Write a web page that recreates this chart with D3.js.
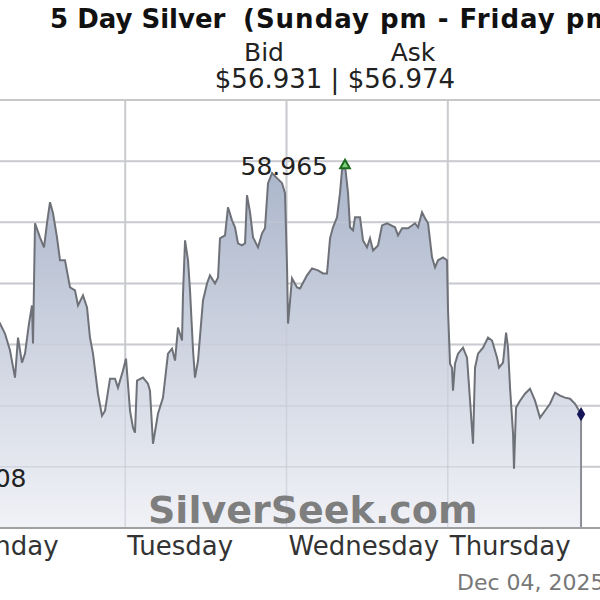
<!DOCTYPE html>
<html>
<head>
<meta charset="utf-8">
<script src="https://cdn.jsdelivr.net/npm/d3@7"></script>
<style>
  body { margin: 0; background: #fff; }
  svg { display: block; font-family: "DejaVu Sans", Verdana, sans-serif; }
</style>
</head>
<body>
<div id="chart-area"></div>
<script>
// hours since Monday 00:00
const hours = [-5.8, -4.5, -3.0, -1.5, 0.0, 2.0, 3.5,
  5.36, 6.10, 6.85, 7.59, 8.04, 8.63, 9.08, 9.67, 10.12, 10.27, 10.57, 11.31, 11.91, 12.35, 12.80,
  13.25, 13.84, 14.29, 15.03, 15.78, 16.52, 16.97, 17.71, 18.31, 18.75, 19.20, 19.94, 20.54, 20.99,
  21.73, 22.47, 22.92, 23.66, 24.11, 24.71, 25.15, 25.45, 25.75, 26.64, 27.38, 27.68, 28.13, 28.87,
  29.62, 30.36, 30.96, 31.41, 31.85, 32.45, 32.60, 32.90, 33.34, 33.64, 34.09, 34.38, 34.83, 35.57,
  36.17, 36.61, 37.36, 37.81, 38.10, 38.85, 39.29, 39.89, 40.34, 40.78, 41.38, 41.83, 42.12, 42.57,
  43.02, 43.76, 44.36, 44.80, 45.25, 45.85, 46.59, 47.34, 47.78, 48.08, 48.23, 48.82, 49.57, 50.01,
  51.05, 51.80, 52.69, 53.43, 54.03, 54.48, 54.92, 55.52, 55.96, 56.26, 56.71, 57.16, 57.45, 57.90,
  58.20, 58.94, 59.39, 59.98, 60.43, 60.88, 61.62, 62.22, 62.96, 64.15, 64.60, 65.20, 66.09, 67.13,
  67.58, 68.17, 68.62, 69.07, 69.66, 70.11, 70.55, 71.30, 71.89, 72.04, 72.34, 72.63, 72.78, 73.08,
  73.53, 74.27, 74.87, 75.32, 75.76, 76.06, 76.51, 77.25, 78.00, 78.59, 79.34, 79.63, 80.23, 80.68,
  80.97, 81.27, 81.72, 81.86, 82.16, 82.76, 83.50, 84.24, 84.99, 85.73, 86.48, 87.22, 87.97, 88.71,
  89.46, 90.20, 90.95, 91.84];

const prices = [56.408, 56.70, 56.95, 57.30, 57.45, 57.80, 57.55,
  57.672, 57.590, 57.451, 57.230, 57.557, 57.352, 57.426, 57.672, 57.820, 57.508, 58.492, 58.377, 58.295, 58.492, 58.664,
  58.574, 58.377, 58.189, 58.189, 57.967, 57.943, 57.820, 57.902, 57.803, 57.557, 57.426, 57.098, 56.918, 56.959,
  57.221, 57.221, 57.148, 57.287, 57.385, 56.959, 56.820, 56.779, 57.205, 57.230, 57.180, 57.123, 56.689, 56.934,
  57.066, 57.426, 57.467, 57.369, 57.639, 57.533, 57.918, 58.352, 58.189, 57.943, 57.451, 57.230, 57.369, 57.861,
  58.000, 58.066, 58.000, 58.049, 58.369, 58.393, 58.623, 58.516, 58.459, 58.328, 58.311, 58.328, 58.721, 58.582,
  58.377, 58.295, 58.410, 58.451, 58.820, 58.902, 58.861, 58.820, 58.738, 58.131, 57.672, 58.041, 57.967, 57.959,
  58.066, 58.123, 58.107, 58.082, 58.082, 58.369, 58.459, 58.541, 58.738, 58.926, 58.965, 58.738, 58.459, 58.434,
  58.541, 58.541, 58.352, 58.295, 58.369, 58.270, 58.311, 58.475, 58.492, 58.459, 58.393, 58.451, 58.451, 58.492,
  58.459, 58.582, 58.533, 58.492, 58.213, 58.131, 58.189, 58.213, 58.189, 57.779, 57.344, 57.311, 57.123, 57.344,
  57.426, 57.475, 57.393, 57.041, 56.689, 57.311, 57.426, 57.475, 57.557, 57.533, 57.393, 57.311, 57.352, 57.598,
  57.475, 57.148, 56.770, 56.484, 56.984, 57.041, 57.098, 57.139, 57.041, 56.902, 56.959, 57.016, 57.107, 57.082,
  57.066, 57.057, 57.016, 56.931];

const dayNames = ["Monday", "Tuesday", "Wednesday", "Thursday", "Friday"];
const dayHours = [0, 24, 48, 72, 96];
const priceGrid = [56.5, 57.0, 57.5, 58.0, 58.5, 59.0];
const bid = "56.931";
const ask = "56.974";
const dateLabel = "Dec 04, 2025";

const data = hours.map((h, i) => ({ h: h, p: prices[i] }));

const width = 600;
const height = 600;
const plotTop = 100;
const plotBottom = 528;

const svg = d3.select("#chart-area")
              .append("svg")
              .attr("width", width)
              .attr("height", height);

const x = d3.scaleLinear()
            .domain([0, 96])
            .range([-36, 609]);

const y = d3.scaleLinear()
            .domain([56, 59.5])
            .range([plotBottom, plotTop]);

const defs = svg.append("defs");
const grad = defs.append("linearGradient")
                 .attr("id", "fillGrad")
                 .attr("gradientUnits", "userSpaceOnUse")
                 .attr("x1", 0).attr("x2", 0)
                 .attr("y1", y(59)).attr("y2", plotBottom);
grad.append("stop").attr("offset", 0).attr("stop-color", "#aab5ca");
grad.append("stop").attr("offset", 1).attr("stop-color", "#f1f2f7");

// gridlines
svg.append("g")
   .selectAll("line")
   .data(priceGrid)
   .enter()
   .append("line")
   .attr("x1", 0)
   .attr("x2", width)
   .attr("y1", d => y(d))
   .attr("y2", d => y(d))
   .attr("stroke", "#cfcfcf")
   .attr("stroke-width", 2);

svg.append("g")
   .selectAll("line")
   .data(dayHours)
   .enter()
   .append("line")
   .attr("x1", d => x(d))
   .attr("x2", d => x(d))
   .attr("y1", plotTop)
   .attr("y2", plotBottom)
   .attr("stroke", "#cfcfcf")
   .attr("stroke-width", 2);

// area + line
const area = d3.area()
               .x(d => x(d.h))
               .y0(plotBottom)
               .y1(d => y(d.p));

const line = d3.line()
               .x(d => x(d.h))
               .y(d => y(d.p));

svg.append("path")
   .datum(data)
   .attr("d", area)
   .attr("fill", "url(#fillGrad)");

// grid shows faintly through the fill
svg.append("g")
   .selectAll("line")
   .data(dayHours)
   .enter()
   .append("line")
   .attr("x1", d => x(d))
   .attr("x2", d => x(d))
   .attr("y1", plotTop)
   .attr("y2", plotBottom)
   .attr("stroke", "#c4c8d2")
   .attr("stroke-opacity", 0.6)
   .attr("stroke-width", 1.5);

svg.append("g")
   .selectAll("line")
   .data(priceGrid)
   .enter()
   .append("line")
   .attr("x1", 0)
   .attr("x2", width)
   .attr("y1", d => y(d))
   .attr("y2", d => y(d))
   .attr("stroke", "#c4c8d2")
   .attr("stroke-opacity", 0.6)
   .attr("stroke-width", 1.5);

svg.append("path")
   .datum(data)
   .attr("d", line)
   .attr("fill", "none")
   .attr("stroke", "#6e7178")
   .attr("stroke-width", 2);

const last = data[data.length - 1];
svg.append("line")
   .attr("x1", x(last.h))
   .attr("x2", x(last.h))
   .attr("y1", y(last.p))
   .attr("y2", plotBottom)
   .attr("stroke", "#8a8d94")
   .attr("stroke-width", 2);

// plot frame
svg.append("line")
   .attr("x1", 0).attr("x2", width)
   .attr("y1", plotTop).attr("y2", plotTop)
   .attr("stroke", "#c8c8c8")
   .attr("stroke-width", 2);

svg.append("line")
   .attr("x1", 0).attr("x2", width)
   .attr("y1", plotBottom).attr("y2", plotBottom)
   .attr("stroke", "#a0a0a0")
   .attr("stroke-width", 2);

// watermark
svg.append("text")
   .attr("x", 148)
   .attr("y", 523)
   .attr("font-size", 38)
   .attr("font-weight", "bold")
   .attr("fill", "#6a6a6a")
   .attr("fill-opacity", 0.85)
   .text("SilverSeek.com");

// high / low markers
const hi = data.reduce((a, b) => (b.p > a.p ? b : a));
const lo = data.reduce((a, b) => (b.p < a.p ? b : a));

svg.append("text")
   .attr("x", x(hi.h) - 17)
   .attr("y", y(hi.p))
   .attr("dy", "0.38em")
   .attr("text-anchor", "end")
   .attr("font-size", 25)
   .attr("fill", "#222")
   .text(hi.p.toFixed(3));

svg.append("path")
   .attr("d", d3.symbol().type(d3.symbolTriangle).size(40)())
   .attr("transform", `translate(${x(hi.h)},${y(hi.p)})`)
   .attr("fill", "#7fcf7f")
   .attr("stroke", "#1d6b1d")
   .attr("stroke-width", 2);

svg.append("text")
   .attr("x", x(lo.h) + 14)
   .attr("y", y(lo.p))
   .attr("dy", "0.35em")
   .attr("font-size", 25)
   .attr("fill", "#222")
   .text(lo.p.toFixed(3));

svg.append("path")
   .attr("d", d3.symbol().type(d3.symbolDiamond).size(60)())
   .attr("transform", `translate(${x(last.h)},${y(last.p)})`)
   .attr("fill", "#15155a");

// day labels (Monday sits a bit further left in the original)
svg.append("g")
   .selectAll("text")
   .data(dayNames)
   .enter()
   .append("text")
   .attr("x", (d, i) => x(dayHours[i]) + (i === 0 ? -8 : 2))
   .attr("y", 555)
   .attr("font-size", 26)
   .attr("fill", "#333")
   .text(d => d);

svg.append("text")
   .attr("x", 457)
   .attr("y", 590)
   .attr("font-size", 22)
   .attr("fill", "#777")
   .text(dateLabel);

// header
const title = svg.append("text")
                 .attr("y", 28)
                 .attr("font-size", 26)
                 .attr("font-weight", "bold")
                 .attr("fill", "#111");
title.append("tspan").attr("x", 50).text("5 Day Silver");
title.append("tspan")
     .attr("x", 243)
     .attr("letter-spacing", 1)
     .text("(Sunday pm - Friday pm)");

svg.append("text")
   .attr("x", 264)
   .attr("y", 61)
   .attr("text-anchor", "middle")
   .attr("font-size", 25)
   .attr("fill", "#222")
   .text("Bid");

svg.append("text")
   .attr("x", 413)
   .attr("y", 61)
   .attr("text-anchor", "middle")
   .attr("font-size", 25)
   .attr("fill", "#222")
   .text("Ask");

svg.append("text")
   .attr("x", 335)
   .attr("y", 88)
   .attr("text-anchor", "middle")
   .attr("font-size", 26)
   .attr("fill", "#222")
   .text(`$${bid} | $${ask}`);
</script>
</body>
</html>
